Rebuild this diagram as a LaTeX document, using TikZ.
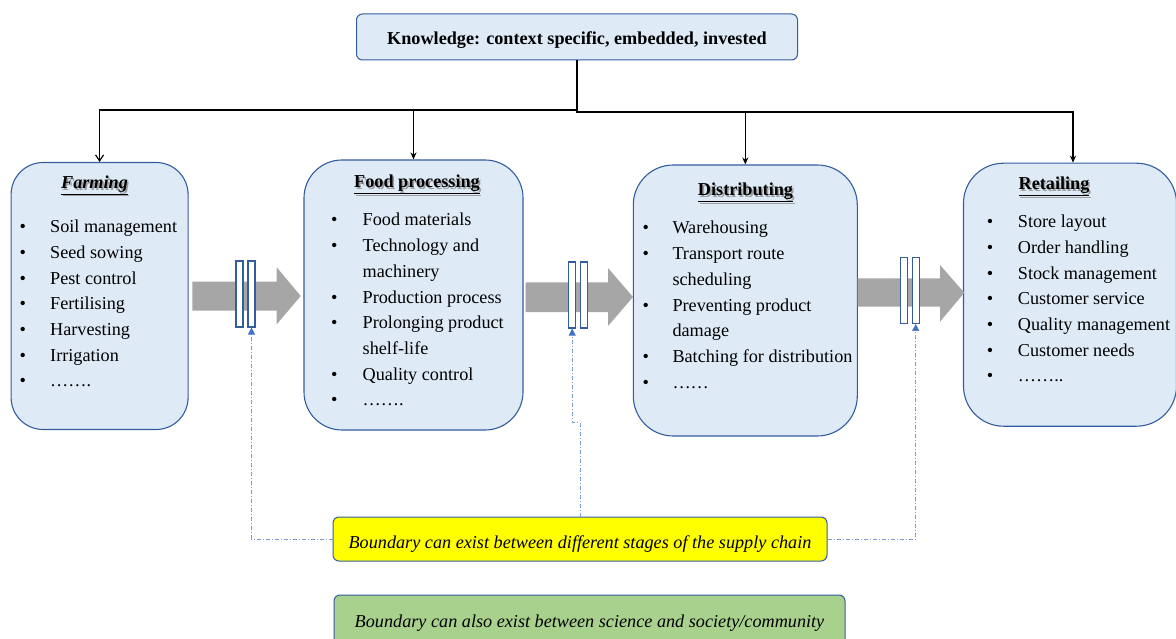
\documentclass[tikz,border=0pt]{standalone}
\usepackage{fontspec}
\setmainfont{Liberation Serif}
\usetikzlibrary{arrows.meta,calc}

\definecolor{boxfill}{RGB}{222,235,247}
\definecolor{boxline}{RGB}{52,93,160}
\definecolor{flowgray}{RGB}{166,166,166}
\definecolor{linkblue}{RGB}{125,155,210}
\definecolor{tipblue}{RGB}{68,114,196}
\definecolor{noteyellow}{RGB}{255,255,0}
\definecolor{notegreen}{RGB}{169,209,142}

\tikzset{
  base font/.style={font=\fontsize{18.2}{25.7}\selectfont},
  stagebox/.style={draw=boxline, fill=boxfill, line width=1.1pt, inner sep=0pt},
  headbox/.style={draw=boxline, fill=boxfill, line width=1pt, rounded corners=6pt, inner sep=0pt},
  notebox/.style={draw=boxline, line width=1pt, rounded corners=6pt, inner sep=0pt},
  gate/.style={draw=boxline, fill=white, line width=1.1pt, minimum width=7pt, minimum height=66pt, inner sep=0pt},
  txt/.style={base font, inner sep=0pt, anchor=base west},
  ctxt/.style={base font, inner sep=0pt, anchor=base},
  bul/.style={base font, inner sep=0pt, anchor=base},
  tree/.style={draw=black, line width=1.2pt},
  treearrow/.style={tree, -{Stealth[length=7pt,width=6pt]}},
  notelink/.style={draw=linkblue, line width=0.7pt, dash pattern=on 4pt off 2pt on 1pt off 2pt,
                   -{Triangle[length=7pt,width=7pt,fill=tipblue,color=tipblue]}},
  flow/.style={fill=flowgray, draw=none},
}

% stage heading with a soft drop shadow
\newcommand{\stagetitle}[4]{%
  \node[ctxt, text=black!45, opacity=0.8] (#1s) at ($(#2)+(1.6,1.6)$) {#3{#4}};
  \node[ctxt] (#1) at (#2) {#3{#4}};
}

\begin{document}
\begin{tikzpicture}[x=1pt, y=-1pt]
\useasboundingbox (0,0) rectangle (1176,639);

% ---------- knowledge box ----------
\node[headbox, minimum width=441pt, minimum height=46pt] (know) at (577,37) {};
\node[ctxt] (knowtxt) at (577,44.3) {\bfseries Knowledge: context specific, embedded, invested};

% ---------- stage boxes ----------
\node[stagebox, rounded corners=32pt, minimum width=177pt, minimum height=267pt] (farm) at (99.6,296) {};
\node[stagebox, rounded corners=38pt, minimum width=219pt, minimum height=270pt] (proc) at (413.5,295) {};
\node[stagebox, rounded corners=40pt, minimum width=224pt, minimum height=271pt] (dist) at (745.3,300.5) {};
\node[stagebox, rounded corners=40pt, minimum width=213pt, minimum height=263pt] (ret) at (1070,294.7) {};

% ---------- knowledge tree ----------
\coordinate (j) at (577,111);
\draw[tree, line width=1.8pt] (know.south) -- (j);
\draw[tree, -{Straight Barb[length=6pt,width=8pt]}] (577,110) -| (farm.north);
\draw[treearrow] (577,110) -| (proc.north);
\draw[treearrow] (576,112) -| (dist.north);
\draw[treearrow] (576,112) -| ($(ret.north)+(3,0)$);

% ---------- headings ----------
\stagetitle{farmt}{94.5,188.5}{\bfseries\itshape\underline}{Farming}
\stagetitle{proct}{417,188}{\bfseries\underline}{Food processing}
\stagetitle{distt}{745.5,196}{\bfseries\underline}{Distributing}
\stagetitle{rett}{1054,190}{\bfseries\underline}{Retailing}

% ---------- farming items ----------
\foreach \t [count=\i from 0] in {Soil management, Seed sowing, Pest control, Fertilising, Harvesting, Irrigation, …….}{
  \node[bul] (fb\i) at (22.7,232.7+25.7*\i) {•};
  \node[txt] (fi\i) at (50,232.7+25.7*\i) {\t};
}

% ---------- food processing items ----------
\foreach \t [count=\i from 0] in {Food materials, Technology and, machinery, Production process, Prolonging product, shelf-life, Quality control, …….}{
  \node[txt] (pi\i) at (362.5,226+25.7*\i) {\t};
}
\foreach \i in {0,1,3,4,6,7}{
  \node[bul] (pb\i) at (334.3,226+25.7*\i) {•};
}

% ---------- distributing items ----------
\foreach \t [count=\i from 0] in {Warehousing, Transport route, scheduling, Preventing product, damage, Batching for distribution, ……}{
  \node[txt] (di\i) at (672.3,234+25.7*\i) {\t};
}
\foreach \i in {0,1,3,5,6}{
  \node[bul] (db\i) at (645.7,234+25.7*\i) {•};
}

% ---------- retailing items ----------
\foreach \t [count=\i from 0] in {Store layout, Order handling, Stock management, Customer service, Quality management, Customer needs, ……..}{
  \node[bul] (rb\i) at (990,227.7+25.7*\i) {•};
  \node[txt] (ri\i) at (1017.7,227.7+25.7*\i) {\t};
}

% ---------- flow arrows between stages ----------
\fill[flow] (192.3,281.7) -- (276.7,281.7) -- (276.7,267.3) -- (300.7,296)
            -- (276.7,324.3) -- (276.7,310.7) -- (192.3,310.7) -- cycle;
\fill[flow] (525.7,282.3) -- (608,282.3) -- (608,268) -- (633,297)
            -- (608,326) -- (608,312) -- (525.7,312) -- cycle;
\fill[flow] (857.5,278.3) -- (940,278.3) -- (940,265) -- (964.3,292.7)
            -- (940,321.7) -- (940,306.7) -- (857.5,306.7) -- cycle;

% ---------- boundaries ----------
\node[gate] (g1a) at (239.5,294) {};
\node[gate] (g1b) at (251.5,294) {};
\node[gate] (g2a) at (572.2,295) {};
\node[gate] (g2b) at (584.2,295) {};
\node[gate] (g3a) at (904,290.4) {};
\node[gate] (g3b) at (915.7,290.4) {};

% ---------- notes ----------
\node[notebox, fill=noteyellow, minimum width=494pt, minimum height=44pt] (yel) at (580,539) {};
\node[ctxt] (yeltxt) at (580,548.3) {\itshape Boundary can exist between different stages of the supply chain};
\node[notebox, fill=notegreen, minimum width=511pt, minimum height=54pt] (grn) at (589.5,622) {};
\node[ctxt] (grntxt) at (589.5,627.7) {\itshape Boundary can also exist between science and society/community};

% ---------- note links ----------
\draw[notelink] (yel.west) -| (g1b.south);
\draw[notelink] (yel.north) -- ++(0,-94) -| (g2a.south);
\draw[notelink] (yel.east) -| (g3b.south);

\end{tikzpicture}
\end{document}
